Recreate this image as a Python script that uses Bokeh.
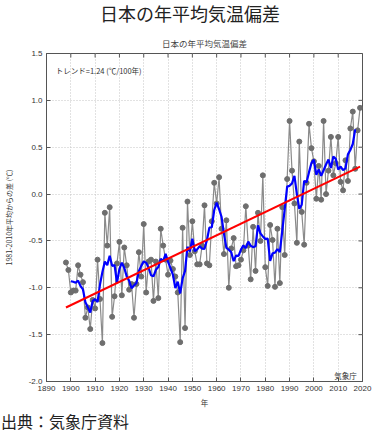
import numpy as np
from bokeh.plotting import figure
from bokeh.layouts import column
from bokeh.models import (ColumnDataSource, Label, Title, FixedTicker, Div,
                          Range1d, PrintfTickFormatter)
from bokeh.embed import file_html
from bokeh.resources import INLINE

# ---- data ----
years = list(range(1898, 2020))
anomaly = [
    -0.73, -0.81, -1.05, -1.03, -1.03, -0.76, -0.86, -0.94, -1.32, -1.21,   # 1898-1907
    -1.44, -1.13, -1.22, -0.70, -1.12, -1.59, -0.20, -0.55, -0.14, -1.31,   # 1908-1917
    -1.09, -0.74, -0.51, -1.08, -0.57, -0.76, -1.02, -0.96, -1.32, -0.96,   # 1918-1927
    -0.62, -0.88, -0.32, -1.05, -0.72, -0.70, -1.14, -0.72, -1.11, -0.37,   # 1928-1937
    -0.55, -0.70, -0.86, -0.71, -0.80, -0.88, -1.05, -1.58, -0.36, -1.43,   # 1938-1947
    -0.08, -0.65, -0.29, -0.61, -0.75, -0.75, -0.55, -0.12, -0.74, -0.76,   # 1948-1957
    -0.29, 0.12, -0.10, 0.18, -0.37, -0.64, -0.28, -1.00, -0.58, -0.47,     # 1958-1967
    -0.77, -0.76, -0.70, -0.60, -0.13, -0.55, -0.91, -0.35, -0.82, -0.20,   # 1968-1977
    -0.50, 0.20, -0.78, -0.98, -0.33, -0.49, -0.99, -0.37, -0.95, -0.14,    # 1978-1987
    -0.65, 0.16, 0.78, 0.25, -0.10, -0.52, 0.56, -0.19, -0.54, 0.12,        # 1988-1997
    0.75, 0.49, 0.35, -0.05, 0.30, -0.06, 0.78, 0.00, 0.25, 0.61,           # 1998-2007
    0.20, 0.33, 0.61, 0.13, 0.04, 0.36, 0.14, 0.70, 0.88, 0.27,             # 2008-2017
    0.68, 0.92,                                                              # 2018-2019
]
x_ticks = [1890, 1900, 1910, 1920, 1930, 1940, 1950, 1960, 1970, 1980, 1990, 2000, 2010, 2020]
y_ticks = [-2.0, -1.5, -1.0, -0.5, 0.0, 0.5, 1.0, 1.5]
main_title = "日本の年平均気温偏差"
plot_title = "日本の年平均気温偏差"
y_label = "1981-2010年平均からの差 (℃)"
x_label = "年"
trend_text = "トレンド=1.24 (℃/100年)"
credit_text = "気象庁"
source_text = "出典：気象庁資料"

# ---- derived series: 5-year running mean and linear trend ----
yr = np.array(years, dtype=float)
an = np.array(anomaly, dtype=float)
run5 = np.convolve(an, np.ones(5) / 5.0, mode="valid")
run_years = yr[2:-2]
slope, icpt = np.polyfit(yr, an, 1)
trend_x = [yr[0], yr[-1]]
trend_y = [slope * yr[0] + icpt, slope * yr[-1] + icpt]

JP = "Noto Sans CJK JP"
LAT = "Liberation Sans"
X0, X1 = x_ticks[0], x_ticks[-1]
Y0, Y1 = y_ticks[0], y_ticks[-1]
W = 375

header = Div(text=main_title, width=W, height=26, margin=0,
             styles={"font-family": JP, "font-size": "18px", "line-height": "26px",
                     "color": "#222222", "white-space": "nowrap", "padding-left": "100px"})

p = figure(width=W, height=386, x_range=Range1d(X0, X1), y_range=Range1d(Y0, Y1),
           output_backend="svg", toolbar_location=None, title=None,
           min_border_left=38, min_border_right=13, min_border_top=27, min_border_bottom=31,
           background_fill_color="white", border_fill_color="white", margin=0)

p.outline_line_color = "#555555"
p.outline_line_width = 1

# axes
for ax in (p.xaxis[0], p.yaxis[0]):
    ax.axis_line_color = "#555555"
    ax.major_tick_line_color = "#555555"
    ax.major_tick_in = 4
    ax.major_tick_out = 0
    ax.minor_tick_line_color = None
    ax.major_label_text_font = LAT
    ax.major_label_text_font_size = "8px"
    ax.major_label_text_color = "#333333"
    ax.axis_label_text_font = JP
    ax.axis_label_text_font_style = "normal"
    ax.axis_label_text_color = "#333333"

p.xaxis.ticker = FixedTicker(ticks=x_ticks)
p.yaxis.ticker = FixedTicker(ticks=y_ticks)
p.yaxis.formatter = PrintfTickFormatter(format="%.1f")
p.xaxis.major_label_standoff = 4
p.yaxis.major_label_standoff = 4
p.xaxis.axis_label = x_label
p.xaxis.axis_label_text_font_size = "7.5px"
p.xaxis.axis_label_standoff = 3
p.yaxis.axis_label = y_label
p.yaxis.axis_label_text_font_size = "7px"
p.yaxis.axis_label_standoff = 12

p.xgrid.ticker = FixedTicker(ticks=x_ticks)
p.ygrid.ticker = FixedTicker(ticks=y_ticks)
for g in (p.xgrid[0], p.ygrid[0]):
    g.grid_line_color = "#c4c4c4"
    g.grid_line_dash = "1 2"
    g.grid_line_width = 1

# inward tick marks on the top and right edges (clipped to the frame)
p.scatter(x_ticks, [Y1] * len(x_ticks), marker="dash", angle=np.pi / 2, size=8,
          line_color="#555555", line_width=1)
p.scatter([X1] * len(y_ticks), y_ticks, marker="dash", size=8,
          line_color="#555555", line_width=1)

# plot title
p.add_layout(Title(text=plot_title, align="center", text_font=JP, text_font_size="8.5px",
                   text_font_style="normal", text_color="#444444", standoff=10), "above")

# data glyphs
src = ColumnDataSource(dict(year=years, val=anomaly))
p.line("year", "val", source=src, line_color="#8a8a8a", line_width=1.2)
p.scatter("year", "val", source=src, size=5, fill_color="#6e6e6e", line_color="#6e6e6e")
p.line(list(run_years), list(run5), line_color="#0000ff", line_width=2.2)
p.line(trend_x, trend_y, line_color="#ff0000", line_width=2)

p.add_layout(Label(x=1893.8, y=1.32, text=trend_text, text_font=JP, text_font_size="7.5px",
                   text_color="#333333", text_baseline="middle"))
p.add_layout(Label(x=2017.6, y=-1.94, text=credit_text, text_font=JP, text_font_size="7.5px",
                   text_color="#333333", text_baseline="middle", text_align="right"))

footer = Div(text=source_text, width=W, height=18, margin=(0, 0, 0, 1),
             styles={"font-family": JP, "font-size": "16px", "line-height": "18px",
                     "color": "#222222", "white-space": "nowrap"})

layout = column(header, p, footer, spacing=0)
open("out.html", "w").write(file_html(layout, INLINE))
